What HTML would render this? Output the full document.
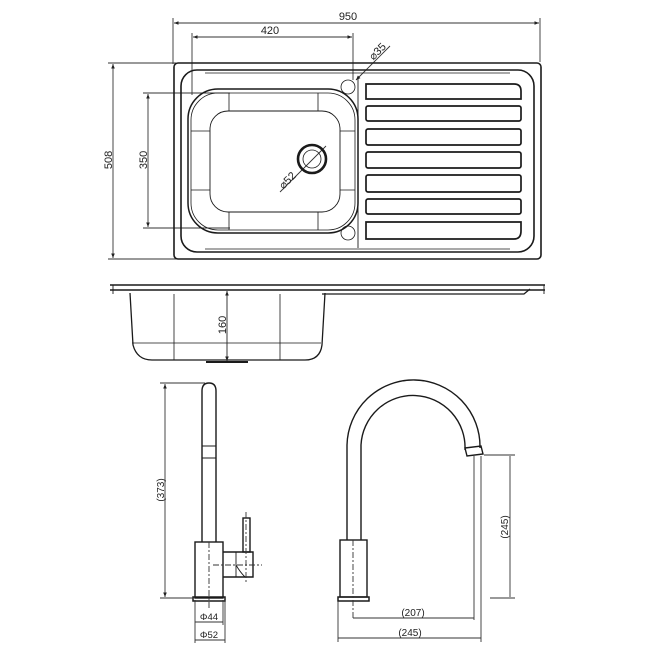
<!DOCTYPE html>
<html><head><style>html,body{margin:0;padding:0;background:#fff}svg{display:block}</style></head>
<body>
<svg width="650" height="650" viewBox="0 0 650 650" xmlns="http://www.w3.org/2000/svg" font-family="Liberation Sans, sans-serif">
<defs>
<marker id="a" viewBox="0 0 10 10" refX="10" refY="5" markerWidth="7" markerHeight="5" orient="auto-start-reverse"><path d="M0,1 L10,5 L0,9 z" fill="#222"/></marker>
</defs>
<g fill="none" stroke="#333" stroke-width="0.9">
<line x1="173" y1="18" x2="173" y2="64"/><line x1="540" y1="18" x2="540" y2="62"/>
<line x1="174" y1="23" x2="539" y2="23" marker-start="url(#a)" marker-end="url(#a)"/>
<line x1="192" y1="33" x2="192" y2="95"/><line x1="353" y1="33" x2="353" y2="80"/>
<line x1="193" y1="37" x2="352" y2="37" marker-start="url(#a)" marker-end="url(#a)"/>
<line x1="108" y1="63" x2="176" y2="63"/><line x1="108" y1="259" x2="176" y2="259"/>
<line x1="113" y1="64" x2="113" y2="258" marker-start="url(#a)" marker-end="url(#a)"/>
<line x1="143" y1="93" x2="230" y2="93"/><line x1="143" y1="228" x2="230" y2="228"/>
<line x1="148" y1="94" x2="148" y2="227" marker-start="url(#a)" marker-end="url(#a)"/>
<line x1="390" y1="46" x2="356" y2="80" marker-end="url(#a)"/>
<line x1="280" y1="192" x2="326" y2="146"/>
</g>
<g fill="none" stroke="#1a1a1a">
<rect x="174" y="63" width="367" height="196" rx="4" stroke-width="1.6"/>
<rect x="181" y="70" width="353" height="182" rx="16" stroke-width="1.6"/>
<path d="M205 73 H510" stroke-width="0.8"/><path d="M205 249 H510" stroke-width="0.8"/>
<rect x="188" y="89" width="170" height="144" rx="30" stroke-width="1.5"/>
<rect x="191" y="93" width="164" height="137" rx="27" stroke-width="0.8"/>
<rect x="210" y="111" width="130" height="101" rx="18" stroke-width="0.9"/>
<path d="M229 93 L229 111 M318 93 L318 111 M229 212 L229 230 M318 212 L318 230 M191 131 L210 131 M191 190 L210 190 M340 131 L355 131 M340 190 L355 190" stroke-width="0.8"/>
<line x1="358" y1="76" x2="358" y2="248" stroke-width="0.9"/>
<circle cx="312" cy="159" r="14" stroke-width="2.6"/>
<circle cx="312" cy="159" r="9" stroke-width="0.8"/>
<circle cx="348" cy="87" r="7" stroke-width="0.8"/>
<circle cx="348" cy="233" r="7" stroke-width="0.8"/>
<g stroke-width="1.7">
<path d="M366 84 H514 Q521 84 521 91 V99 H366 Z"/>
<rect x="366" y="106" width="155" height="15" rx="2"/>
<rect x="366" y="129" width="155" height="16" rx="2"/>
<rect x="366" y="152" width="155" height="16" rx="2"/>
<rect x="366" y="175" width="155" height="17" rx="2"/>
<rect x="366" y="199" width="155" height="15" rx="2"/>
<path d="M366 222 H521 V231 Q521 239 514 239 H366 Z"/>
</g>
<path d="M110 285 H545 M110 290 H545" stroke-width="1.4"/>
<path d="M113 285 V294 M544 285 V294" stroke-width="0.9"/>
<path d="M130 293 L133 345 Q137 360 152 360 H305 Q320 360 322 345 L325 293 M322 294 H524 L530 289" stroke-width="1.3"/>
<path d="M174 294 V360 M280 294 V360 M132 343 H321" stroke-width="0.8"/>
<path d="M206 362 H248" stroke-width="2"/>
</g>
<line x1="227" y1="291" x2="227" y2="361" stroke="#222" stroke-width="0.9" marker-start="url(#a)" marker-end="url(#a)"/>
<g fill="none" stroke="#1a1a1a" stroke-width="1.4">
<path d="M202 542 V391 Q202 383 209 383 Q216 383 216 391 V542"/>
<path d="M202 446 H216 M202 458 H216" stroke-width="1"/>
<rect x="195" y="542" width="28" height="56"/>
<path d="M223 552 H253 V577 H223"/>
<path d="M236 552 L236 577 M236 565 Q240 572 245 577" stroke-width="0.9"/>
<rect x="243" y="518" width="7" height="34"/>
<path d="M193 597 H225 V601 H193 Z" stroke-width="1.5"/>
</g>
<g fill="none" stroke="#333" stroke-width="0.9">
<path d="M209 542 V610 M213 565 H262 M246 512 V582" stroke-dasharray="6 2 2 2"/>
<line x1="160" y1="383" x2="205" y2="383"/><line x1="160" y1="598" x2="193" y2="598"/>
<line x1="165" y1="384" x2="165" y2="597" marker-start="url(#a)" marker-end="url(#a)"/>
<line x1="195" y1="600" x2="195" y2="643"/><line x1="223" y1="600" x2="223" y2="625"/><line x1="225" y1="600" x2="225" y2="643"/>
<line x1="195" y1="622" x2="223" y2="622"/>
<line x1="195" y1="640" x2="225" y2="640"/>
</g>
<g fill="none" stroke="#1a1a1a" stroke-width="1.4">
<path d="M347 540 V445 A66 66 0 0 1 480 448"/>
<path d="M361 540 V445 A52 52 0 0 1 465 450"/>
<path d="M465 448 L481 446 L483 454 L467 456 Z"/>
<rect x="340" y="540" width="27" height="57"/>
<path d="M338 597 H369 V601 H338 Z" stroke-width="1.5"/>
</g>
<g fill="none" stroke="#333" stroke-width="0.9">
<path d="M353 540 V620" stroke-dasharray="6 2 2 2"/>
<line x1="474" y1="456" x2="474" y2="620"/>
<line x1="481" y1="456" x2="481" y2="642"/>
<line x1="338" y1="601" x2="338" y2="642"/>
<line x1="484" y1="455" x2="515" y2="455"/><line x1="490" y1="598" x2="515" y2="598"/>
<line x1="510" y1="456" x2="510" y2="597"/>
<line x1="353" y1="618" x2="474" y2="618"/>
<line x1="338" y1="638" x2="481" y2="638"/>
</g>
<g fill="#222" font-size="11">
<text x="348" y="20" text-anchor="middle">950</text>
<text x="270" y="34" text-anchor="middle">420</text>
<text transform="translate(112 160) rotate(-90)" text-anchor="middle">508</text>
<text transform="translate(147 160) rotate(-90)" text-anchor="middle">350</text>
<text transform="translate(380 54) rotate(-45)" text-anchor="middle">⌀35</text>
<text transform="translate(290 183) rotate(-45)" text-anchor="middle">⌀52</text>
<text transform="translate(226 325) rotate(-90)" text-anchor="middle">160</text>
<text transform="translate(164 490) rotate(-90)" text-anchor="middle" font-size="10">(373)</text>
<text transform="translate(508 527) rotate(-90)" text-anchor="middle" font-size="10">(245)</text>
<text x="209" y="620" text-anchor="middle" font-size="9.5">Φ44</text>
<text x="209" y="638" text-anchor="middle" font-size="9.5">Φ52</text>
<text x="413" y="616" text-anchor="middle" font-size="10">(207)</text>
<text x="410" y="636" text-anchor="middle" font-size="10">(245)</text>
</g>
</svg>
</body></html>
